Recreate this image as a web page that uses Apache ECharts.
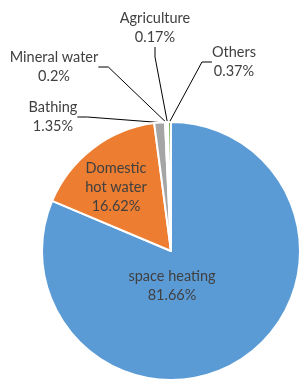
<!DOCTYPE html>
<html><head><meta charset="utf-8">
<script src="https://cdn.jsdelivr.net/npm/echarts@6/dist/echarts.min.js"></script>
<style>html,body{margin:0;padding:0;background:#fff}#c{width:307px;height:386px}</style>
</head><body><div id="c"></div>
<script>
const categories = ['space heating','Domestic hot water','Bathing','Mineral water','Agriculture','Others'];
const labelNames = ['space heating','Domestic\nhot water','Bathing','Mineral water','Agriculture','Others'];
const values = [81.66,16.62,1.35,0.2,0.17,0.37];
const percentLabels = ['81.66%','16.62%','1.35%','0.2%','0.17%','0.37%'];

const colors = ['#5B9BD5','#ED7D31','#A5A5A5','#FFC000','#4472C4','#70AD47'];
const labelPos = [[172,286],[116,187],[53,117],[54,67],[155,28],[234,62]];
const insideIdx = [0,1];

const chart = echarts.init(document.getElementById('c'));
chart.setOption({
  animation:false,
  series:[{
    type:'pie',
    center:[171,251],
    radius:129,
    startAngle:90,
    clockwise:true,
    avoidLabelOverlap:false,
    itemStyle:{borderColor:'#fff',borderWidth:2},
    label:{
      fontFamily:'Lato',fontSize:14.5,color:'#404040',lineHeight:19,align:'center',
      formatter:p=>labelNames[p.dataIndex]+'\n'+percentLabels[p.dataIndex]
    },
    labelLine:{show:true,length:10,length2:10,lineStyle:{color:'#000',width:1}},
    labelLayout:function(p){
      const q = labelPos[p.dataIndex];
      return {x:q[0],y:q[1],align:'center',verticalAlign:'middle'};
    },
    data:categories.map((c,i)=>({
      name:c,value:values[i],itemStyle:{color:colors[i]},
      label: insideIdx.includes(i)?{position:'inside'}:{position:'outside'},
      labelLine: insideIdx.includes(i)?{show:false}:{show:true}
    }))
  }]
});
</script></body></html>
